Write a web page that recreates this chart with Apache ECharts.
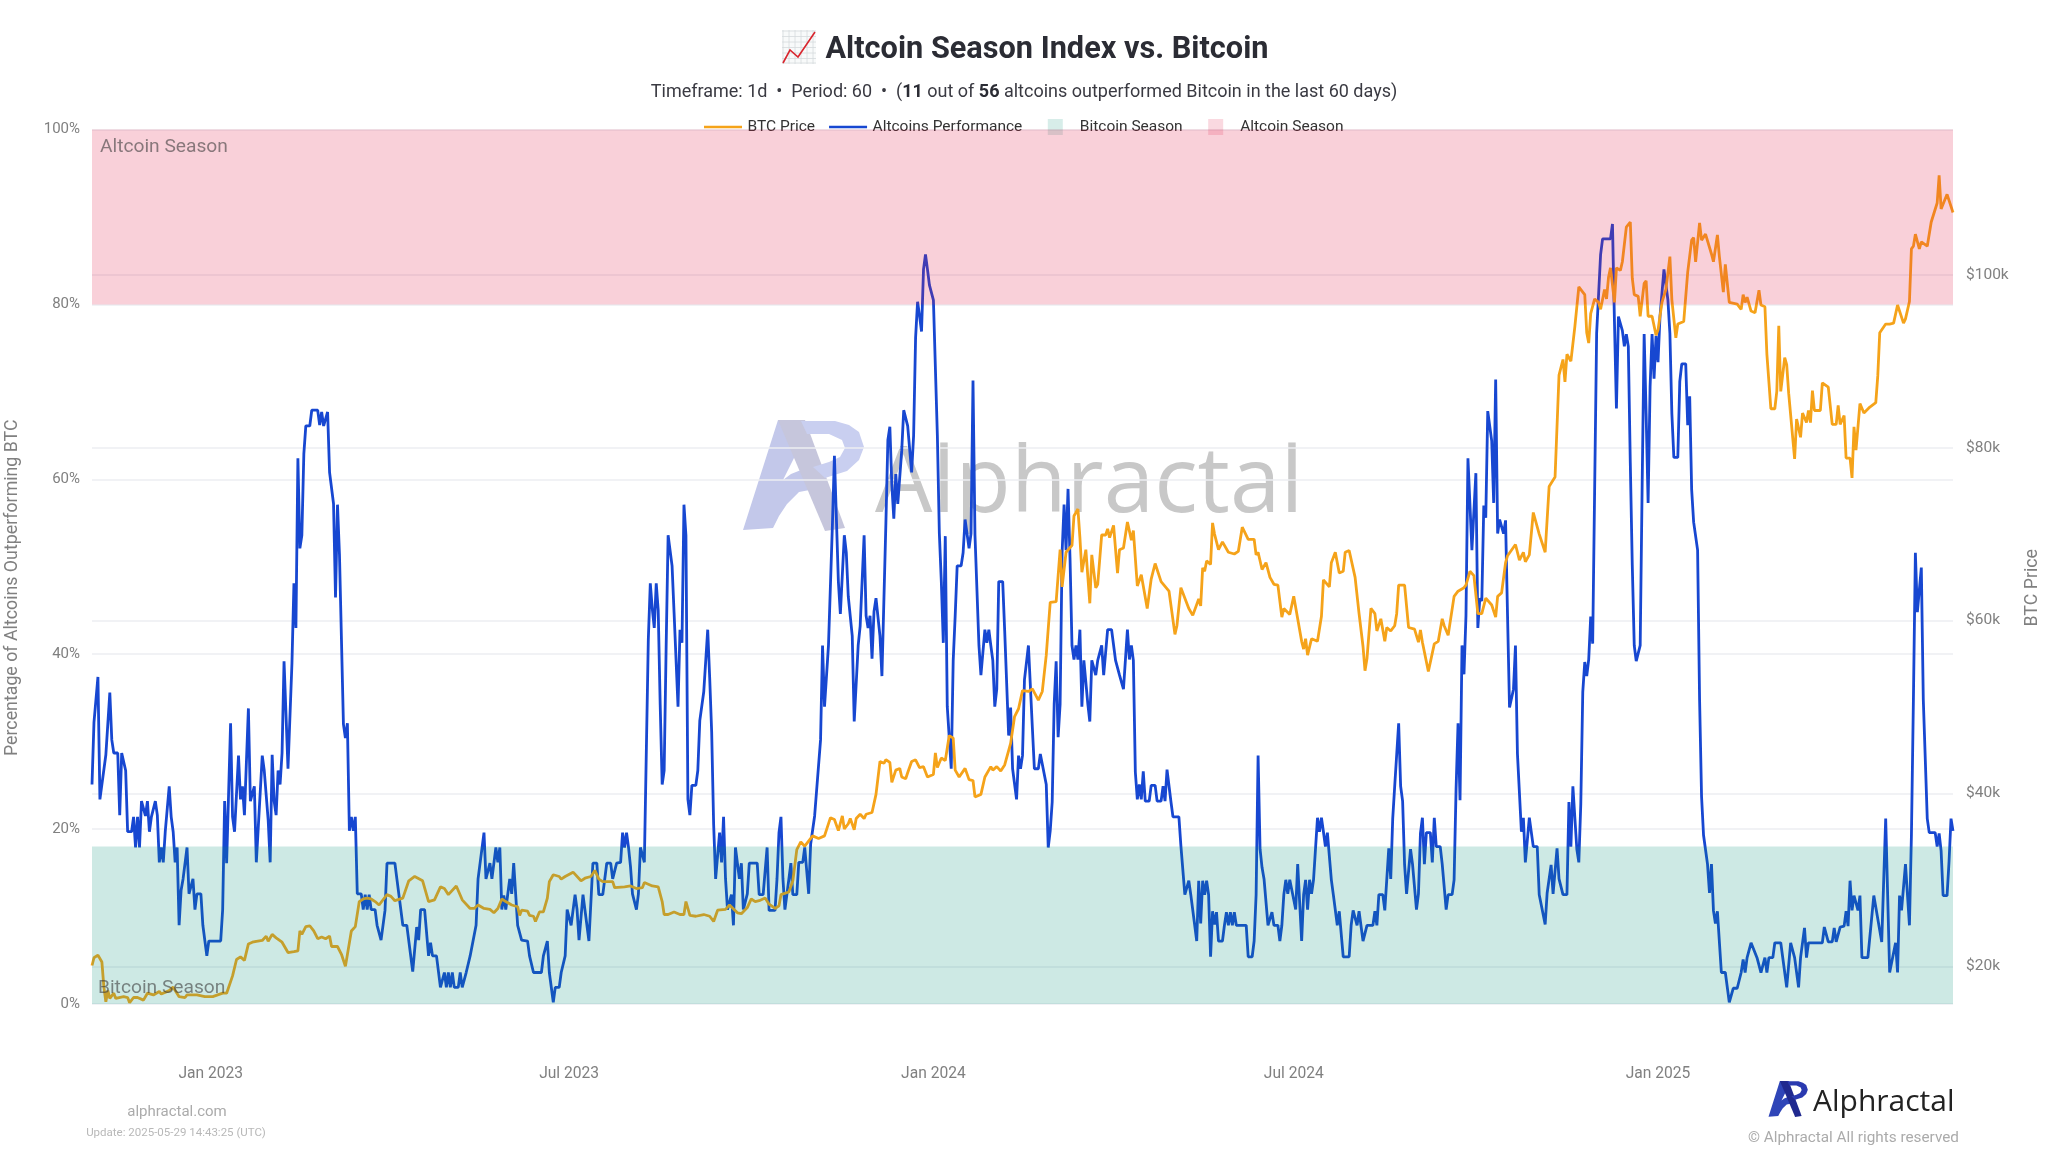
<!DOCTYPE html>
<html>
<head>
<meta charset="utf-8">
<title>Altcoin Season Index vs. Bitcoin</title>
<script src="https://cdn.jsdelivr.net/npm/echarts@6/dist/echarts.min.js"></script>
<style>
  html, body { margin: 0; padding: 0; background: #fff; }
  #chart { width: 2048px; height: 1152px; }
</style>
</head>
<body>
<div id="chart"></div>
<script>
const firstDay = Date.UTC(2022, 10, 2);
const DAY = 86400000;

// [days since firstDay, % of altcoins outperforming BTC]
const altcoinsPerformance = [
  [0,25.1],[1,32.2],[2,32.2],[3,37.4],[4,23.4],[7,28.5],[9,35.6],[10,30.2],[11,28.7],[13,28.7],[14,21.6],[15,28.7],[16,28.6],[17,26.7],[18,19.7],[20,19.7],[21,21.4],[22,17.9],[23,21.4],[24,17.9],[25,23.2],[26,23.2],[27,21.5],[28,23.2],[29,19.7],[30,21.4],[31,21.4],[32,23.2],[33,21.6],[34,16.2],[35,17.9],[36,16.2],[37,19.7],[38,19.7],[39,24.9],[40,21.4],[41,19.7],[42,16.2],[43,17.9],[44,9],[45,13],[46,14.3],[47,14.3],[48,17.9],[49,12.6],[50,12.6],[51,14.3],[52,10.8],[53,12.6],[55,12.6],[56,9],[58,5.5],[59,7.2],[65,7.2],[66,10.8],[67,23.2],[68,16.1],[69,16.1],[70,32.1],[71,21.4],[72,19.7],[74,28.4],[75,23.4],[76,24.9],[77,21.6],[79,33.8],[80,23.2],[82,24.9],[83,16.2],[86,28.4],[87,26.7],[88,26.7],[89,21],[90,16.2],[91,28.5],[92,23.2],[93,21.6],[94,26.7],[95,25.1],[96,28.7],[97,39.2],[99,26.9],[101,39],[102,48.1],[103,43],[104,62.4],[105,52.1],[106,53.6],[107,62.9],[108,66.1],[110,66.1],[111,67.9],[114,67.9],[115,66.2],[116,67.7],[117,66.1],[118,66.1],[119,67.7],[120,60.8],[121,60.8],[122,57.2],[123,46.5],[124,57.1],[125,51.4],[127,32],[128,30.4],[129,32.1],[130,19.8],[131,21.4],[132,19.8],[133,21.4],[134,12.6],[136,12.6],[137,10.8],[138,12.5],[139,10.8],[140,12.5],[141,10.8],[143,10.8],[144,9],[146,7.3],[148,10.7],[149,16.1],[153,16.1],[154,14.3],[155,14.3],[157,9],[159,9],[162,3.7],[164,8.8],[165,7.3],[166,10.8],[168,10.8],[170,5.5],[171,7],[172,5.5],[174,5.5],[176,1.9],[178,3.6],[179,1.9],[180,3.6],[181,1.9],[182,3.6],[183,1.9],[185,1.9],[186,3.6],[187,1.9],
  [188,1.7],[189,3.6],[190,3.6],[191,5.5],[192,5.5],[194,9],[195,14.3],[198,19.6],[199,14.3],[200,14.3],[201,16.1],[202,14.3],[204,17.9],[205,16.2],[206,17.9],[207,10.8],[208,12.4],[209,10.8],[210,10.8],[211,14.3],[212,12.6],[213,16.1],[215,9],[216,9],[217,7.3],[220,7.2],[221,5.5],[222,5.4],[223,3.6],[227,3.6],[228,5.5],[229,5.5],[230,7.2],[231,3.6],[232,3.6],[233,0.2],[234,1.9],[236,1.9],[237,3.6],[238,3.6],[239,5.5],[240,10.8],[241,10.8],[242,9],[243,9],[244,12.5],[245,10.8],[246,7.3],[248,12.5],[251,7.2],[252,7.2],[253,16.1],[255,16.1],[256,12.5],[258,12.5],[260,16.1],[262,16.1],[263,14.3],[265,16.1],[267,16.2],[268,19.6],[269,17.9],[270,19.6],[271,17.9],[272,15.7],[273,12.6],[274,12.6],[275,10.8],[276,12.6],[277,17.9],[278,17.9],[279,16.2],[280,16.2],[281,41.7],[282,48.1],[283,45.2],[284,43],[285,48.1],[286,45],[287,34.2],[288,25.1],[289,26.7],[290,40.8],[291,53.6],[292,53.6],[293,50.1],[294,44.8],[295,44.8],[296,34],[297,42.8],[298,41.3],[299,57.1],[300,53.6],[301,23.4],[302,21.6],[303,25],[305,25],[306,26.7],[307,32.4],[309,35.7],[310,35.7],[311,42.8],[312,37.3],[313,31.1],[314,20.5],[315,14.3],[316,14.3],[317,19.6],[318,16.2],[319,21.4],[320,14.3],[321,10.8],[323,12.5],[324,9],[325,17.9],[326,17.9],[327,14.3],[328,16.1],[329,10.8],[331,12.6],[332,16.1],[336,16.1],[337,12.5],[339,12.5],[341,17.9],[342,10.7],[345,10.7],[346,14.3],[347,19.6],[348,21.4],[349,14.3],[350,10.8],[352,14.3],[353,16.1],[354,12.5],[356,12.5],[357,16.2],[359,16.2],[360,17.9],[362,12.6],[363,18.3],[365,21.5],[366,21.5],[368,30.2],[369,41],[370,34],[372,41],[374,54.9],[375,62.7],[376,62.7],[377,48.3],
  [378,44.6],[380,53.6],[381,51.6],[382,46.6],[383,46.4],[384,42.1],[385,32.3],[387,41],[388,43.2],[390,53.6],[391,44.4],[392,43],[393,44.4],[394,39.5],[395,44.9],[396,46.4],[397,46.4],[398,42.1],[399,37.5],[400,37.5],[401,55],[402,64.5],[403,66],[404,59.4],[405,55.5],[406,60.6],[407,57.2],[409,63.3],[410,67.9],[411,67.9],[412,66.1],[413,66.1],[414,60.8],[415,65],[416,76.2],[417,80.3],[418,78.7],[419,76.9],[420,84],[421,85.7],[422,84],[423,82.2],[424,82.2],[425,80.5],[426,80.5],[427,65],[428,53.8],[429,48.3],[430,41.3],[431,53.5],[432,34],[433,34],[434,26.9],[435,39.3],[436,44.4],[437,50.1],[439,50.1],[440,51.6],[441,55.4],[442,55.4],[443,52.1],[444,53.8],[445,71.3],[446,53.6],[447,53.6],[448,41],[449,37.6],[451,42.8],[452,41.3],[453,42.8],[454,41],[455,39.3],[456,34],[457,36],[458,48.3],[460,48.3],[461,42.7],[463,30.7],[464,33.9],[465,26.9],[467,23.4],[468,28.4],[469,26.9],[470,28.4],[471,37.1],[473,41],[475,31.5],[476,26.9],[478,26.9],[479,28.6],[480,28.6],[482,25.1],[483,17.9],[484,19.8],[485,23.1],[486,34.3],[487,39.2],[488,30.5],[489,34.3],[490,51.6],[491,57.1],[492,51.9],[493,58.9],[494,51],[495,41],[496,39.4],[497,41],[498,39.4],[499,42.8],[500,34],[501,39.3],[503,34.3],[504,32.3],[505,39.3],[506,39.3],[507,37.6],[508,39.3],[510,41],[511,37.6],[513,42.8],[515,42.8],[517,39.3],[519,37.6],[521,36],[523,42.8],[524,39.4],[525,41],[526,39.3],[527,26.5],[528,23.4],[529,25.1],[530,23.4],[531,26.6],[532,23.2],[534,23.2],[535,25],[537,25],[538,23.2],[540,23.2],[541,24.9],[542,23.2],[543,26.8],[544,26.8],[545,23.1],[546,21.4],[549,21.4],[550,18.1],[552,12.5],[554,14.1],[555,12.5],[556,12.5],[558,7.2],[559,14.1],[560,9.2],[561,14.1],[562,12.5],[563,14.1],[564,12.5],[565,5.4],[566,10.6],
  [567,9.1],[568,10.5],[569,7.2],[571,7.2],[572,9],[573,10.5],[574,9],[575,10.5],[576,9],[577,10.5],[578,9],[583,9],[584,5.4],[586,5.4],[587,7.2],[588,12.5],[589,28.4],[590,17.7],[591,15.6],[592,14.3],[593,14.3],[594,9],[595,9],[596,10.5],[597,9],[599,9],[600,7.2],[601,9],[602,12.5],[603,14.2],[604,12.6],[605,14.2],[606,14.2],[608,10.8],[609,16],[610,16],[611,7.2],[612,12.5],[613,14.2],[614,10.8],[615,14.2],[616,12.6],[617,14.2],[618,14.3],[619,21.3],[620,19.7],[621,21.3],[622,19.7],[623,18],[624,19.6],[625,19.6],[626,14.2],[627,12.5],[628,12.5],[629,9],[630,10.6],[631,10.6],[632,5.4],[635,5.4],[636,9],[637,10.7],[638,10.6],[639,9],[640,10.6],[642,7.2],[643,7.2],[644,9],[647,9],[648,10.6],[649,9],[650,12.5],[652,12.5],[653,10.7],[654,10.7],[655,17.8],[656,14.3],[657,21.2],[658,24.9],[660,32.1],[661,24.9],[662,23.2],[663,15.9],[664,12.6],[666,17.7],[667,16],[668,16],[669,10.8],[670,12.6],[671,19.5],[672,21.3],[673,16],[674,19.6],[676,19.6],[677,16.2],[678,21.3],[679,18],[681,18],[682,16],[683,16],[684,10.8],[685,12.5],[687,12.5],[688,14.2],[689,24.6],[690,32.1],[691,23.3],[692,41],[693,37.7],[694,44.4],[695,62.4],[697,51.9],[699,60.7],[700,43],[701,46.4],[702,46.1],[703,57],[704,55.6],[705,67.8],[707,64.4],[708,57.3],[709,71.4],[710,53.8],[711,55.4],[712,55.3],[713,53.8],[714,55.3],[715,44.4],[716,33.9],[717,33.9],[718,36],[719,41],[720,28.6],[721,28.6],[722,19.7],[723,21.3],[724,16.2],[726,21.3],[728,18],[730,18],[731,12.5],[732,12.5],[734,9.1],[735,12.7],[737,15.9],[738,12.6],[740,17.8],[741,14.3],[742,14.2],[743,12.5],[745,12.5],[746,23.1],[747,18],[748,24.9],[750,17.7],[751,16.2],[752,22.9],[753,35.7],
  [754,39.1],[755,37.5],[756,39.4],[757,44.3],[758,41.2],[760,76.7],[762,85.7],[763,87.5],[767,87.5],[768,89.2],[769,78],[770,68.1],[771,78.6],[772,78.6],[773,77],[774,75.2],[775,76.6],[776,75.2],[777,61.9],[778,50.2],[779,41],[780,39.2],[781,39.2],[782,41],[783,59.5],[784,76.6],[785,67.5],[786,57.3],[787,70.6],[788,76.6],[789,71.5],[790,76.4],[791,73.4],[792,78.6],[794,84],[795,84],[796,80.5],[797,76.7],[798,67.5],[799,62.5],[801,62.5],[802,71.2],[803,73.2],[805,73.2],[806,66.2],[807,69.5],[808,58.8],[809,55.1],[811,51.9],[812,34.8],[813,23.7],[814,19.3],[816,16],[817,12.7],[818,16],[819,10.7],[820,9.2],[821,10.6],[823,3.6],[825,3.6],[827,0.2],[828,0],[829,1.8],[831,1.8],[833,3.6],[834,5.1],[835,3.6],[836,5.3],[838,7],[839,7],[841,5.3],[842,5.3],[843,3.6],[844,3.6],[845,5.3],[846,3.6],[847,5.3],[849,5.3],[850,7],[853,7],[856,1.9],[858,7],[860,5.3],[862,1.9],[863,5.3],[864,5.3],[865,8.7],[866,5.3],[867,7],[874,7],[875,8.8],[876,8.8],[877,7.1],[879,7.1],[880,8.7],[881,7.1],[883,8.8],[885,8.9],[886,10.6],[887,8.9],[888,14.1],[889,10.7],[890,12.4],[891,12.4],[892,10.7],[893,12.4],[894,5.3],[897,5.3],[900,12.4],[901,12.4],[904,7.1],[906,21.2],[908,3.6],[909,3.6],[911,7],[912,3.6],[913,12.4],[914,10.7],[915,10.7],[916,16],[918,9],[919,19.3],[920,34.8],[921,51.6],[922,44.8],[923,44.8],[924,49.9],[925,34.8],[927,21.2],[928,19.6],[931,19.6],[932,18],[933,19.5],[934,17.5],[935,12.4],[937,12.4],[938,16.3],[939,21.2],[940,19.8]
];

// [days since firstDay, BTC price in USD]
const btcPrice = [
  [0,20100],[1,21000],[3,21300],[5,20500],[6,17600],[7,15900],[8,17200],[9,16300],[11,16900],[12,16300],[16,16500],[18,16400],[19,15800],[21,16400],[23,16400],[26,16100],[28,16900],[31,16700],[34,17100],[35,16800],[39,17200],[41,17600],[44,16500],[47,16400],[48,16700],[53,16700],[57,16500],[61,16500],[66,16900],[68,16900],[71,18900],[73,20800],[75,21100],[77,20700],[79,22600],[81,22800],[83,22900],[86,23000],[88,23500],[89,22900],[91,23700],[93,23300],[96,22800],[99,21600],[102,21700],[104,21800],[105,24100],[106,23700],[108,24600],[110,24700],[112,24100],[114,23200],[116,23400],[118,23200],[120,23500],[121,22300],[124,22300],[126,21400],[128,20000],[129,20100],[131,24100],[133,24600],[135,27500],[137,27800],[139,27900],[141,27800],[143,27500],[145,27100],[149,28300],[151,28100],[153,27600],[157,27900],[160,29900],[163,30400],[167,29900],[170,27500],[173,27700],[176,29200],[178,29000],[180,28300],[184,29300],[187,27700],
  [191,26700],[193,26700],[195,27100],[198,26700],[199,26900],[201,26600],[203,26200],[205,26700],[207,27800],[209,27500],[212,27100],[215,26900],[216,25900],[217,26500],[220,26400],[221,25900],[223,25800],[224,25200],[226,26300],[228,26300],[230,27900],[231,29800],[233,30600],[236,30400],[237,30100],[239,30400],[243,30900],[247,29900],[249,30200],[252,30400],[254,31100],[256,30100],[258,29800],[263,29800],[264,29100],[269,29200],[272,29300],[275,29000],[278,29100],[279,29700],[283,29300],[286,29200],[288,27500],[289,26000],[291,26000],[294,26300],[297,26000],[299,26000],[300,27500],[302,25900],[305,25800],[309,26000],[312,25800],[314,25200],[316,26500],[320,26600],[322,27100],[326,26200],[328,26100],[331,26800],[333,27800],[335,27500],[337,27600],[340,27900],[342,27200],[345,26700],[347,27000],[348,28300],[352,28600],[354,29900],[356,33500],[358,34400],[360,33900],[364,35100],[367,34800],[370,35100],[373,37200],[375,37000],[377,35700],
  [378,35900],[379,37400],[380,35900],[382,36500],[383,37100],[385,35800],[386,37100],[388,37600],[390,37100],[391,37600],[394,37800],[396,39900],[398,43700],[400,43500],[401,43900],[403,43600],[404,41300],[406,42700],[408,42900],[409,41900],[411,41700],[412,42400],[414,43700],[416,43900],[418,43000],[420,43100],[422,41900],[425,42200],[426,44700],[427,43000],[429,44100],[431,43800],[433,46700],[435,46400],[436,42700],[438,41900],[441,42900],[443,41600],[445,41500],[446,39600],[449,39900],[451,41900],[452,42100],[454,43100],[455,42700],[457,43100],[459,42600],[461,43300],[464,45800],[466,48900],[468,49800],[470,51900],[473,51800],[475,52100],[478,50800],[480,51800],[482,56000],[484,62100],[485,62000],[487,62200],[489,68200],[490,63900],[492,67900],[495,68700],[496,72100],[498,72900],[499,69600],[500,65600],[502,68200],[504,62000],[505,67600],[507,63800],[508,64200],[510,69900],[512,69900],[513,70600],[514,69600],[516,71000],[518,65500],[519,68200],[521,68400],[523,71400],[525,69300],[526,70400],[528,64000],[530,65300],[533,61400],[535,64800],[537,66600],[540,64500],[544,63400],[547,58400],[548,59400],[550,63800],[551,63900],[554,61400],[556,60600],[559,62500],[560,61700],[561,66100],[562,65700],[563,66900],[565,66500],[566,71300],
  [567,70000],[569,68200],[571,69100],[572,69100],[574,67900],[577,67700],[579,68000],[581,70800],[582,70800],[584,69400],[587,69400],[588,67600],[589,67900],[591,65900],[593,66700],[595,65000],[597,64200],[599,64100],[601,60400],[602,61400],[603,61400],[605,60700],[607,62800],[608,62600],[611,57600],[612,56700],[613,57900],[614,56000],[616,57900],[619,57600],[621,60500],[622,64700],[625,63900],[626,66700],[628,67900],[630,65500],[632,65700],[633,67900],[635,68100],[638,65000],[639,65100],[640,60800],[642,57000],[643,54200],[644,55600],[645,55400],[646,61400],[648,60800],[649,58800],[651,60200],[653,57600],[654,59200],[656,58800],[658,59400],[659,60800],[660,64100],[663,64100],[665,59200],[668,59000],[670,57500],[671,58900],[672,57500],[673,57600],[675,54100],[676,54100],[678,57300],[680,57600],[682,60200],[683,59400],[685,58300],[688,62800],[690,63400],[693,63800],[694,64100],[696,65700],[698,65200],[700,60800],[702,60800],[704,62600],[707,61800],[709,60400],[710,62800],[712,63200],[714,66700],[715,67500],[719,68800],[721,67000],[723,67900],[724,66800],[726,67600],[728,72500],[731,70000],[734,67900],[736,75500],[739,76600],[741,88400],[742,88400],[743,90200],[744,87600],[745,90800],[747,90000],[749,94000],[751,98600],[752,98700],[753,98000],
  [754,97700],[755,93300],[756,92100],[757,95500],[759,97200],[761,96800],[762,96000],[764,98300],[765,97200],[766,99700],[767,100800],[769,96800],[770,100800],[772,100500],[773,101500],[774,101500],[775,105500],[777,106100],[778,99600],[779,97700],[781,97500],[782,95200],[783,95100],[784,99000],[785,99300],[786,95200],[788,95200],[790,93000],[791,93600],[793,96800],[795,98300],[797,102100],[798,97100],[800,92700],[801,94300],[804,94600],[806,100300],[807,100500],[808,104000],[809,104300],[810,101500],[812,106000],[813,104000],[815,104700],[818,102400],[819,101500],[821,104600],[822,102100],[824,98000],[825,101200],[827,96800],[831,96600],[833,96000],[834,97700],[835,96800],[836,97400],[838,95800],[840,95600],[842,98200],[843,96500],[845,96300],[846,90800],[848,84500],[850,84500],[851,86500],[852,94100],[853,86500],[855,90400],[856,89600],[857,86300],[860,78700],[861,83300],[863,81200],[864,84000],[866,82900],[867,84300],[868,82900],[869,86600],[870,84300],[873,84300],[874,87500],[877,87000],[879,82700],[881,82700],[882,84900],[883,82700],[885,83700],[886,78800],[888,78800],[889,76500],[890,82400],[891,79700],[893,85100],[895,84000],[896,83900],[898,84700],[901,85200],[902,88300],[903,93300],[906,94300],[908,94300],[910,94400],[912,96500],[913,96600],[915,94400],[916,94900],[918,96900],[919,103000],[920,103300],[921,104700],[923,103000],[924,103800],[927,103300],[929,106100],[930,106300],[932,108300],[933,111500],[934,107600],[937,109300],[938,108600],[940,107200]
];

const seasonBands = { altcoin: [80, 100], bitcoin: [0, 18] };

const priceTicks = [20000, 40000, 60000, 80000, 100000];
const dateTickValues = [Date.UTC(2023,0,1), Date.UTC(2023,6,1), Date.UTC(2024,0,1), Date.UTC(2024,6,1), Date.UTC(2025,0,1)];
const dateTickLabels = ["Jan 2023", "Jul 2023", "Jan 2024", "Jul 2024", "Jan 2025"];

const toSeries = (rows) => rows.map(([d, v]) => [firstDay + d * DAY, v]);

const GREEN_BAND = "rgba(5,145,120,0.2)";
const PINK_BAND = "rgba(225,20,65,0.2)";
const FONT = "Roboto";

// legend icons, the extra moveto pairs pin the bounding box to the full item size
const LINE_ICON = "path://M0 0L0 0M38 16L38 16M0 6.8H38V9.2H0Z";
const RECT_ICON = "path://M0 0L0 0M38 16L38 16M11.5 0H26.5V16H11.5Z";

// logo pieces, drawn at 122x110
const logoLeft = [[0,110],[35,0],[50,0],[58,24],[40,60],[48,54],[58,50],[68,50],[76,55],[84,64],[88,72],[72,69],[56,72],[44,84],[36,96],[30,108]];
const logoRight = [[35,0],[62,0],[102,108],[82,111]];
const logoBowl = [[58,1],[92,1],[106,5],[116,12],[121,27],[116,40],[104,51],[82,58],[70,47],[86,42],[97,37],[102,28],[99,20],[86,14],[64,14]];

const logo = (x, y, s, colors, z) => [logoLeft, logoRight, logoBowl].map((points, i) => ({
  type: "polygon", x, y, scaleX: s, scaleY: s, z, silent: true,
  shape: { points }, style: { fill: colors[i] },
}));

// chart emoji beside the title
const emojiLine = (x1, y1, x2, y2) => ({
  type: "line", z: 5, silent: true, shape: { x1, y1, x2, y2 }, style: { stroke: "#d5dadd", lineWidth: 0.8 },
});
const emojiGrid = [
  ...[31, 36.5, 42, 47.5, 53, 58.5, 63].map((y) => emojiLine(782, y, 816, y)),
  ...[783, 789, 795, 801, 807, 813].map((x) => emojiLine(x, 30, x, 64)),
];

const chart = echarts.init(document.getElementById("chart"));
chart.setOption({
  animation: false,
  backgroundColor: "#fff",
  textStyle: { fontFamily: FONT },
  title: [
    {
      text: "Altcoin Season Index vs. Bitcoin",
      left: 1047, top: 35, textAlign: "center", padding: 0,
      textStyle: { fontFamily: FONT, fontSize: 30.7, fontWeight: 700, color: "#2b2c34" },
    },
    {
      text: "{n|Timeframe: 1d  •  Period: 60  •  (}{b|11}{n| out of }{b|56}{n| altcoins outperformed Bitcoin in the last 60 days)}",
      left: 1024, top: 83.5, textAlign: "center", padding: 0,
      textStyle: {
        fontWeight: 400,
        rich: {
          n: { fontFamily: FONT, fontSize: 18, fontWeight: 400, color: "#3a3a42" },
          b: { fontFamily: FONT, fontSize: 18, fontWeight: 700, color: "#2b2c34" },
        },
      },
    },
  ],
  legend: {
    left: 704, top: 119, padding: 0,
    itemWidth: 39, itemHeight: 16, itemGap: 14,
    textStyle: { fontFamily: FONT, fontSize: 15.5, color: "#333" },
    data: [
      { name: "BTC Price", icon: LINE_ICON },
      { name: "Altcoins Performance", icon: LINE_ICON },
      { name: "Bitcoin Season", icon: RECT_ICON },
      { name: "Altcoin Season", icon: RECT_ICON },
    ],
  },
  grid: { left: 92, right: 95, top: 129.5, bottom: 148, outerBoundsMode: "none" },
  xAxis: {
    type: "value",
    min: firstDay,
    max: firstDay + 940 * DAY,
    axisLine: { show: false },
    axisTick: { show: false, customValues: dateTickValues },
    splitLine: { show: false },
    axisLabel: {
      customValues: dateTickValues,
      margin: 62.5,
      hideOverlap: false,
      color: "#808080",
      fontFamily: FONT,
      fontSize: 15.6,
      formatter: (value) => dateTickLabels[dateTickValues.indexOf(value)],
    },
  },
  yAxis: [
    {
      type: "value",
      min: 0,
      max: 100,
      interval: 20,
      name: "Percentage of Altcoins Outperforming BTC",
      nameLocation: "middle",
      nameGap: 70,
      nameTextStyle: { color: "#808080", fontFamily: FONT, fontSize: 17.8, padding: [0, 42, 0, 0] },
      axisLine: { show: false },
      axisTick: { show: false },
      axisLabel: { margin: 12, color: "#808080", fontFamily: FONT, fontSize: 15, padding: [5, 0, 0, 0], formatter: "{value}%" },
      splitLine: { lineStyle: { color: "#eceef2", width: 1.5 } },
    },
    {
      type: "value",
      min: 15650,
      max: 116800,
      position: "right",
      name: "BTC Price",
      nameLocation: "middle",
      nameGap: 71,
      nameRotate: 90,
      nameTextStyle: { color: "#808080", fontFamily: FONT, fontSize: 17.8, padding: [0, 42, 0, 0] },
      axisLine: { show: false },
      axisTick: { show: false, customValues: priceTicks },
      axisLabel: {
        customValues: priceTicks,
        margin: 13,
        color: "#808080",
        fontFamily: FONT,
        fontSize: 15.5,
        padding: [5, 0, 0, 0],
        formatter: (value) => "$" + value / 1000 + "k",
      },
      splitLine: { show: true, lineStyle: { color: "#eceef2", width: 1.5 } },
    },
  ],
  series: [
    {
      name: "BTC Price",
      type: "line",
      yAxisIndex: 1,
      z: 3,
      showSymbol: false,
      symbol: "none",
      data: toSeries(btcPrice),
      lineStyle: { color: "#f5a31a", width: 2.8 },
      itemStyle: { color: "#f5a31a" },
    },
    {
      name: "Altcoins Performance",
      type: "line",
      yAxisIndex: 0,
      z: 2,
      showSymbol: false,
      symbol: "none",
      data: toSeries(altcoinsPerformance),
      lineStyle: { color: "#1747d1", width: 2.8 },
      itemStyle: { color: "#1747d1" },
    },
    {
      name: "Bitcoin Season",
      type: "scatter",
      yAxisIndex: 0,
      data: [],
      itemStyle: { color: GREEN_BAND },
      markArea: {
        z: 10,
        silent: true,
        itemStyle: { color: GREEN_BAND },
        label: {
          show: true, position: "insideBottomLeft", distance: 6,
          color: "rgba(60,60,60,0.6)", fontFamily: FONT, fontSize: 19.2,
          formatter: "Bitcoin Season",
        },
        data: [[{ yAxis: seasonBands.bitcoin[0] }, { yAxis: seasonBands.bitcoin[1] }]],
      },
    },
    {
      name: "Altcoin Season",
      type: "scatter",
      yAxisIndex: 0,
      data: [],
      itemStyle: { color: PINK_BAND },
      markArea: {
        z: 10,
        silent: true,
        itemStyle: { color: PINK_BAND },
        label: {
          show: true, position: "insideTopLeft", distance: 8,
          color: "rgba(60,60,60,0.6)", fontFamily: FONT, fontSize: 19.2,
          formatter: "Altcoin Season",
        },
        data: [[{ yAxis: seasonBands.altcoin[0] }, { yAxis: seasonBands.altcoin[1] }]],
      },
    },
  ],
  graphic: [
    ...logo(743, 420, 1, ["#c3c8ea", "#c6c6dc", "#c9cff0"], -10),
    { type: "text", z: -10, silent: true, x: 875, y: 486, style: { text: "Alphractal", fill: "#c8c8c8", font: "400 90.8px 'Open Sans'", textVerticalAlign: "middle" } },
    ...logo(1768.5, 1081, 0.325, ["#2f45b8", "#20298f", "#2a3ab0"], 5),
    { type: "text", z: 5, silent: true, x: 1813, y: 1102.5, style: { text: "Alphractal", fill: "#222", font: "400 30px 'Open Sans'", textVerticalAlign: "middle" } },
    { type: "text", z: 5, silent: true, x: 1748, y: 1138, style: { text: "© Alphractal All rights reserved", fill: "#ababab", font: "400 15.3px Roboto", textVerticalAlign: "middle" } },
    { type: "text", z: 5, silent: true, x: 177, y: 1112, style: { text: "alphractal.com", fill: "#ababab", font: "400 15px Roboto", textAlign: "center", textVerticalAlign: "middle" } },
    { type: "text", z: 5, silent: true, x: 176, y: 1133, style: { text: "Update: 2025-05-29 14:43:25 (UTC)", fill: "#b8b8b8", font: "400 11.5px Roboto", textAlign: "center", textVerticalAlign: "middle" } },
    { type: "rect", z: 4, silent: true, shape: { x: 782, y: 30, width: 34, height: 34 }, style: { fill: "#f8fafa" } },
    ...emojiGrid,
    { type: "polyline", z: 6, silent: true, shape: { points: [[783, 63], [790, 50], [798, 57], [815, 32]] }, style: { fill: null, stroke: "#d9262e", lineWidth: 1.6 } },
  ],
});
</script>
</body>
</html>
